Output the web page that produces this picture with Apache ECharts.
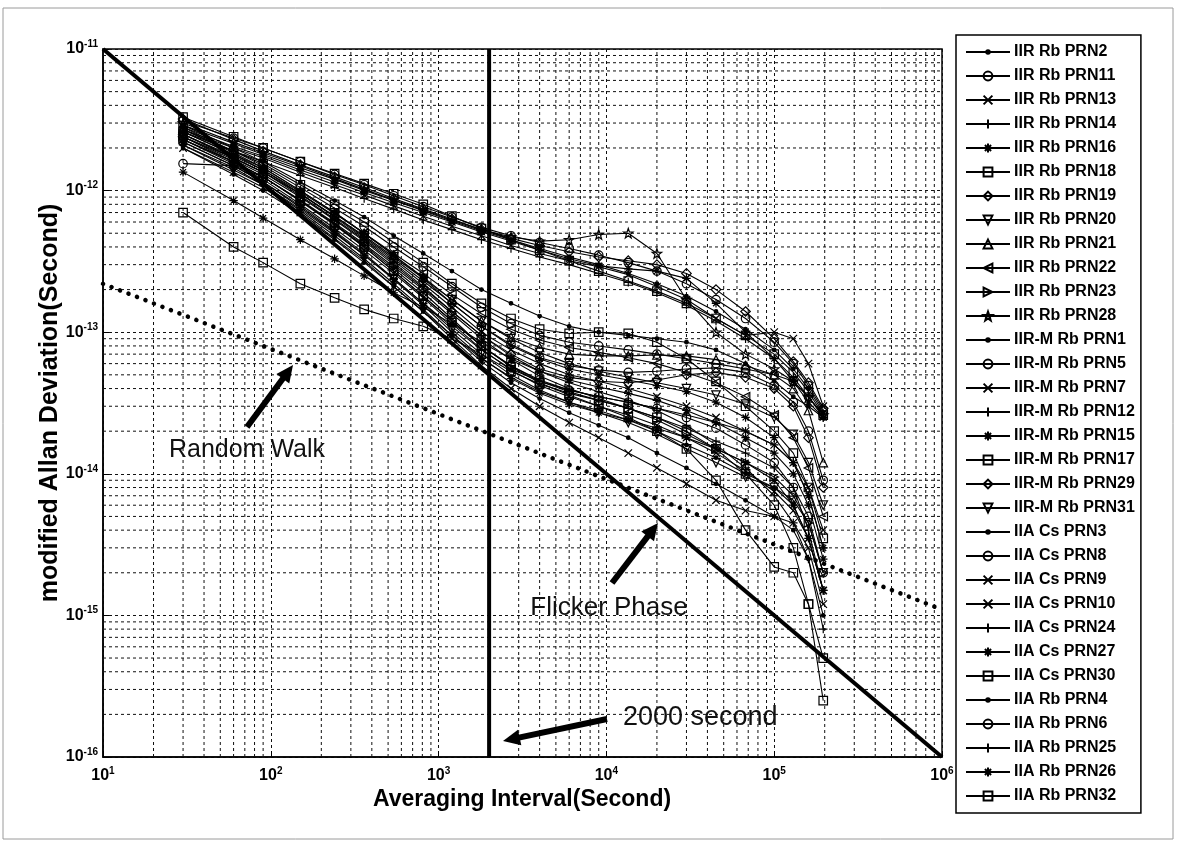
<!DOCTYPE html>
<html><head><meta charset="utf-8">
<script src="https://cdn.jsdelivr.net/npm/echarts@6/dist/echarts.min.js"></script>
<style>html,body{margin:0;padding:0;background:#fff}#c{width:1181px;height:842px}</style>
</head><body><div id="c"></div>
<script>
// ---------------- DATA ----------------
const TAU = [30, 60, 90, 150, 240, 360, 540, 810, 1200, 1800, 2700, 4000, 6000, 9000, 13500, 20000, 30000, 45000, 67500, 100000, 130000, 160000, 196000];

const iirRb_PRN2  = [2.9e-12, 2.15e-12, 1.8e-12, 1.45e-12, 1.2e-12, 1.0e-12, 8.5e-13, 7.2e-13, 6.1e-13, 5.2e-13, 4.5e-13, 3.9e-13, 3.4e-13, 3.0e-13, 2.6e-13, 2.2e-13, 1.8e-13, 1.4e-13, 1.05e-13, 7.5e-14, 5.5e-14, 4.0e-14, 2.7e-14];
const iirRb_PRN11 = [3.1e-12, 2.35e-12, 2.0e-12, 1.6e-12, 1.3e-12, 1.1e-12, 9.2e-13, 7.7e-13, 6.5e-13, 5.5e-13, 4.8e-13, 4.3e-13, 3.9e-13, 3.5e-13, 3.1e-13, 2.7e-13, 2.2e-13, 1.7e-13, 1.25e-13, 8.5e-14, 6.0e-14, 4.2e-14, 2.8e-14];
const iirRb_PRN13 = [2.7e-12, 2.0e-12, 1.7e-12, 1.35e-12, 1.1e-12, 9.3e-13, 7.8e-13, 6.6e-13, 5.6e-13, 4.8e-13, 4.1e-13, 3.6e-13, 3.2e-13, 2.9e-13, 2.55e-13, 2.1e-13, 1.7e-13, 1.25e-13, 9.5e-14, 1.0e-13, 9.0e-14, 6.0e-14, 3.0e-14];
const iirRb_PRN14 = [2.6e-12, 1.9e-12, 1.6e-12, 1.28e-12, 1.05e-12, 8.8e-13, 7.4e-13, 6.2e-13, 5.3e-13, 4.5e-13, 3.9e-13, 3.4e-13, 3.0e-13, 2.6e-13, 2.25e-13, 1.9e-13, 1.55e-13, 1.2e-13, 9.0e-14, 6.5e-14, 4.8e-14, 3.5e-14, 2.5e-14];
const iirRb_PRN16 = [2.8e-12, 2.05e-12, 1.75e-12, 1.4e-12, 1.15e-12, 9.7e-13, 8.2e-13, 7.0e-13, 6.0e-13, 5.1e-13, 4.4e-13, 3.8e-13, 3.3e-13, 2.95e-13, 2.8e-13, 2.7e-13, 2.4e-13, 1.6e-13, 1.0e-13, 6.5e-14, 4.5e-14, 3.2e-14, 2.5e-14];
const iirRb_PRN18 = [3.3e-12, 2.4e-12, 2.0e-12, 1.6e-12, 1.32e-12, 1.12e-12, 9.5e-13, 8.0e-13, 6.6e-13, 5.4e-13, 4.5e-13, 3.8e-13, 3.2e-13, 2.7e-13, 2.3e-13, 1.95e-13, 1.6e-13, 1.25e-13, 9.5e-14, 7.0e-14, 5.2e-14, 3.8e-14, 2.6e-14];
const iirRb_PRN19 = [3.2e-12, 2.3e-12, 1.9e-12, 1.52e-12, 1.25e-12, 1.05e-12, 8.8e-13, 7.4e-13, 6.3e-13, 5.3e-13, 4.6e-13, 4.1e-13, 3.7e-13, 3.4e-13, 3.2e-13, 3.0e-13, 2.6e-13, 2.0e-13, 1.4e-13, 9.0e-14, 6.2e-14, 4.4e-14, 2.9e-14];
const iirRb_PRN20 = [2.4e-12, 1.7e-12, 1.35e-12, 9.5e-13, 6.6e-13, 4.8e-13, 3.4e-13, 2.4e-13, 1.7e-13, 1.2e-13, 9.0e-14, 7.2e-14, 6.0e-14, 5.3e-14, 4.8e-14, 4.4e-14, 4.0e-14, 3.6e-14, 3.1e-14, 2.5e-14, 1.9e-14, 1.2e-14, 6.0e-15];
const iirRb_PRN21 = [2.7e-12, 1.85e-12, 1.45e-12, 1.0e-12, 7.0e-13, 5.0e-13, 3.5e-13, 2.45e-13, 1.7e-13, 1.2e-13, 9.2e-14, 7.8e-14, 7.0e-14, 6.8e-14, 6.8e-14, 6.9e-14, 6.8e-14, 6.4e-14, 5.8e-14, 5.0e-14, 4.0e-14, 2.8e-14, 1.2e-14];
const iirRb_PRN22 = [2.5e-12, 1.75e-12, 1.4e-12, 9.8e-13, 6.9e-13, 5.0e-13, 3.6e-13, 2.6e-13, 1.85e-13, 1.35e-13, 1.05e-13, 8.8e-14, 7.8e-14, 7.2e-14, 6.6e-14, 6.0e-14, 5.2e-14, 4.4e-14, 3.5e-14, 2.6e-14, 1.8e-14, 1.1e-14, 5.0e-15];
const iirRb_PRN23 = [2.3e-12, 1.6e-12, 1.25e-12, 8.6e-13, 5.9e-13, 4.2e-13, 2.9e-13, 2.0e-13, 1.35e-13, 9.0e-14, 6.4e-14, 4.9e-14, 4.0e-14, 3.4e-14, 2.9e-14, 2.4e-14, 1.9e-14, 1.5e-14, 1.2e-14, 9.5e-15, 7.0e-15, 4.5e-15, 2.0e-15];
const iirRb_PRN28 = [3.0e-12, 2.2e-12, 1.85e-12, 1.5e-12, 1.22e-12, 1.02e-12, 8.6e-13, 7.3e-13, 6.2e-13, 5.3e-13, 4.7e-13, 4.4e-13, 4.5e-13, 4.9e-13, 5.0e-13, 3.6e-13, 1.7e-13, 1.0e-13, 7.0e-14, 5.5e-14, 4.5e-14, 3.5e-14, 2.6e-14];

const iirmRb_PRN1  = [2.9e-12, 2.0e-12, 1.6e-12, 1.15e-12, 8.5e-13, 6.5e-13, 4.8e-13, 3.6e-13, 2.7e-13, 2.0e-13, 1.6e-13, 1.3e-13, 1.1e-13, 1.0e-13, 9.5e-14, 9.0e-14, 8.5e-14, 7.5e-14, 6.0e-14, 4.5e-14, 3.5e-14, 3.0e-14, 2.5e-14];
const iirmRb_PRN5  = [2.7e-12, 1.9e-12, 1.5e-12, 1.05e-12, 7.5e-13, 5.6e-13, 4.0e-13, 2.9e-13, 2.1e-13, 1.5e-13, 1.15e-13, 9.5e-14, 8.5e-14, 8.0e-14, 7.5e-14, 7.0e-14, 6.5e-14, 6.0e-14, 5.5e-14, 5.0e-14, 4.5e-14, 3.5e-14, 2.6e-14];
const iirmRb_PRN7  = [2.5e-12, 1.7e-12, 1.35e-12, 9.5e-13, 6.5e-13, 4.6e-13, 3.2e-13, 2.2e-13, 1.5e-13, 1.0e-13, 7.5e-14, 6.0e-14, 5.0e-14, 4.5e-14, 4.0e-14, 3.5e-14, 3.0e-14, 2.5e-14, 2.0e-14, 1.6e-14, 1.2e-14, 8.0e-15, 4.0e-15];
const iirmRb_PRN12 = [2.3e-12, 1.6e-12, 1.25e-12, 8.5e-13, 5.8e-13, 4.1e-13, 2.8e-13, 1.9e-13, 1.25e-13, 8.0e-14, 5.8e-14, 4.5e-14, 3.8e-14, 3.3e-14, 2.9e-14, 2.5e-14, 2.1e-14, 1.7e-14, 1.4e-14, 1.1e-14, 8.0e-15, 4.0e-15, 1.5e-15];
const iirmRb_PRN15 = [2.6e-12, 1.8e-12, 1.45e-12, 1.0e-12, 7.0e-13, 5.0e-13, 3.5e-13, 2.4e-13, 1.6e-13, 1.1e-13, 8.0e-14, 6.5e-14, 5.5e-14, 5.0e-14, 4.6e-14, 4.2e-14, 3.8e-14, 3.2e-14, 2.5e-14, 1.8e-14, 1.2e-14, 7.0e-15, 3.0e-15];
const iirmRb_PRN17 = [2.8e-12, 1.9e-12, 1.55e-12, 1.1e-12, 8.0e-13, 6.0e-13, 4.3e-13, 3.1e-13, 2.2e-13, 1.6e-13, 1.25e-13, 1.05e-13, 9.8e-14, 1.0e-13, 9.8e-14, 8.5e-14, 6.5e-14, 4.5e-14, 3.0e-14, 2.0e-14, 1.4e-14, 8.0e-15, 3.5e-15];
const iirmRb_PRN29 = [2.4e-12, 1.65e-12, 1.3e-12, 9.0e-13, 6.2e-13, 4.4e-13, 3.0e-13, 2.05e-13, 1.4e-13, 9.5e-14, 7.0e-14, 5.5e-14, 4.8e-14, 4.5e-14, 4.4e-14, 4.6e-14, 5.0e-14, 5.2e-14, 4.8e-14, 4.0e-14, 3.0e-14, 1.8e-14, 8.0e-15];
const iirmRb_PRN31 = [2.2e-12, 1.5e-12, 1.15e-12, 7.8e-13, 5.2e-13, 3.6e-13, 2.4e-13, 1.6e-13, 1.05e-13, 7.0e-14, 5.0e-14, 3.9e-14, 3.2e-14, 2.7e-14, 2.3e-14, 1.9e-14, 1.5e-14, 1.2e-14, 9.5e-15, 8.0e-15, 6.5e-15, 4.5e-15, 2.0e-15];

const iiaCs_PRN3  = [2.1e-12, 1.4e-12, 1.1e-12, 7.2e-13, 4.8e-13, 3.3e-13, 2.2e-13, 1.45e-13, 9.5e-14, 6.2e-14, 4.4e-14, 3.4e-14, 2.7e-14, 2.2e-14, 1.8e-14, 1.4e-14, 1.1e-14, 8.5e-15, 6.5e-15, 5.0e-15, 4.0e-15, 2.5e-15, 1.0e-15];
const iiaCs_PRN8  = [2.6e-12, 1.8e-12, 1.4e-12, 9.5e-13, 6.6e-13, 4.7e-13, 3.3e-13, 2.3e-13, 1.6e-13, 1.1e-13, 8.2e-14, 6.6e-14, 5.8e-14, 5.4e-14, 5.2e-14, 5.3e-14, 5.5e-14, 5.6e-14, 5.2e-14, 4.2e-14, 3.2e-14, 2.0e-14, 9.0e-15];
const iiaCs_PRN9  = [2.3e-12, 1.55e-12, 1.2e-12, 8.0e-13, 5.4e-13, 3.8e-13, 2.6e-13, 1.75e-13, 1.15e-13, 7.6e-14, 5.4e-14, 4.2e-14, 3.5e-14, 3.0e-14, 2.6e-14, 2.2e-14, 1.8e-14, 1.4e-14, 1.05e-14, 7.5e-15, 5.5e-15, 3.5e-15, 1.5e-15];
const iiaCs_PRN10 = [2.0e-12, 1.35e-12, 1.05e-12, 7.0e-13, 4.6e-13, 3.2e-13, 2.1e-13, 1.4e-13, 9.0e-14, 5.8e-14, 4.0e-14, 3.0e-14, 2.3e-14, 1.8e-14, 1.4e-14, 1.1e-14, 8.5e-15, 6.5e-15, 5.5e-15, 5.0e-15, 4.5e-15, 3.0e-15, 1.2e-15];
const iiaCs_PRN24 = [2.5e-12, 1.7e-12, 1.35e-12, 9.2e-13, 6.3e-13, 4.5e-13, 3.1e-13, 2.1e-13, 1.4e-13, 9.5e-14, 6.8e-14, 5.3e-14, 4.4e-14, 3.8e-14, 3.3e-14, 2.8e-14, 2.2e-14, 1.6e-14, 1.1e-14, 7.0e-15, 4.5e-15, 2.5e-15, 8.0e-16];
const iiaCs_PRN27 = [2.2e-12, 1.5e-12, 1.15e-12, 7.6e-13, 5.1e-13, 3.5e-13, 2.35e-13, 1.55e-13, 1.0e-13, 6.6e-14, 4.7e-14, 3.7e-14, 3.1e-14, 2.7e-14, 2.4e-14, 2.1e-14, 1.8e-14, 1.5e-14, 1.2e-14, 9.0e-15, 6.0e-15, 3.5e-15, 1.5e-15];
const iiaCs_PRN30 = [2.4e-12, 1.6e-12, 1.25e-12, 8.4e-13, 5.7e-13, 4.0e-13, 2.7e-13, 1.8e-13, 1.2e-13, 8.0e-14, 5.7e-14, 4.4e-14, 3.6e-14, 3.0e-14, 2.5e-14, 2.0e-14, 1.5e-14, 9.0e-15, 4.0e-15, 2.2e-15, 2.0e-15, 1.2e-15, 5.0e-16];

const iiaRb_PRN4  = [2.0e-12, 1.3e-12, 1.0e-12, 6.8e-13, 4.5e-13, 3.1e-13, 2.1e-13, 1.4e-13, 9.5e-14, 6.5e-14, 4.8e-14, 3.8e-14, 3.2e-14, 2.8e-14, 2.4e-14, 2.0e-14, 1.6e-14, 1.3e-14, 1.0e-14, 8.0e-15, 6.0e-15, 3.5e-15, 1.5e-15];
const iiaRb_PRN6  = [1.55e-12, 1.5e-12, 1.25e-12, 8.5e-13, 5.8e-13, 4.0e-13, 2.7e-13, 1.8e-13, 1.2e-13, 8.0e-14, 5.8e-14, 4.6e-14, 3.9e-14, 3.5e-14, 3.2e-14, 2.9e-14, 2.5e-14, 2.1e-14, 1.6e-14, 1.2e-14, 8.0e-15, 5.0e-15, 2.0e-15];
const iiaRb_PRN25 = [2.1e-12, 1.45e-12, 1.1e-12, 7.4e-13, 5.0e-13, 3.5e-13, 2.4e-13, 1.6e-13, 1.1e-13, 7.5e-14, 5.5e-14, 4.5e-14, 3.9e-14, 3.5e-14, 3.2e-14, 2.9e-14, 2.6e-14, 2.3e-14, 2.0e-14, 1.6e-14, 1.2e-14, 7.0e-15, 3.0e-15];
const iiaRb_PRN26 = [1.35e-12, 8.5e-13, 6.4e-13, 4.5e-13, 3.3e-13, 2.5e-13, 1.9e-13, 1.5e-13, 1.15e-13, 8.5e-14, 6.5e-14, 5.3e-14, 4.6e-14, 4.1e-14, 3.7e-14, 3.3e-14, 2.8e-14, 2.3e-14, 1.8e-14, 1.4e-14, 1.0e-14, 6.0e-15, 2.5e-15];
const iiaRb_PRN32 = [7.0e-13, 4.0e-13, 3.1e-13, 2.2e-13, 1.75e-13, 1.45e-13, 1.25e-13, 1.1e-13, 9.0e-14, 7.0e-14, 5.3e-14, 4.3e-14, 3.7e-14, 3.3e-14, 2.9e-14, 2.5e-14, 2.0e-14, 1.5e-14, 1.0e-14, 6.0e-15, 3.0e-15, 1.2e-15, 2.5e-16];

const SERIES_NAMES = ['IIR Rb PRN2','IIR Rb PRN11','IIR Rb PRN13','IIR Rb PRN14','IIR Rb PRN16','IIR Rb PRN18','IIR Rb PRN19','IIR Rb PRN20','IIR Rb PRN21','IIR Rb PRN22','IIR Rb PRN23','IIR Rb PRN28',
  'IIR-M Rb PRN1','IIR-M Rb PRN5','IIR-M Rb PRN7','IIR-M Rb PRN12','IIR-M Rb PRN15','IIR-M Rb PRN17','IIR-M Rb PRN29','IIR-M Rb PRN31',
  'IIA Cs PRN3','IIA Cs PRN8','IIA Cs PRN9','IIA Cs PRN10','IIA Cs PRN24','IIA Cs PRN27','IIA Cs PRN30',
  'IIA Rb PRN4','IIA Rb PRN6','IIA Rb PRN25','IIA Rb PRN26','IIA Rb PRN32'];
const SERIES_VALUES = [iirRb_PRN2, iirRb_PRN11, iirRb_PRN13, iirRb_PRN14, iirRb_PRN16, iirRb_PRN18, iirRb_PRN19, iirRb_PRN20, iirRb_PRN21, iirRb_PRN22, iirRb_PRN23, iirRb_PRN28,
  iirmRb_PRN1, iirmRb_PRN5, iirmRb_PRN7, iirmRb_PRN12, iirmRb_PRN15, iirmRb_PRN17, iirmRb_PRN29, iirmRb_PRN31,
  iiaCs_PRN3, iiaCs_PRN8, iiaCs_PRN9, iiaCs_PRN10, iiaCs_PRN24, iiaCs_PRN27, iiaCs_PRN30,
  iiaRb_PRN4, iiaRb_PRN6, iiaRb_PRN25, iiaRb_PRN26, iiaRb_PRN32];
const MARKERS = ['.','o','x','+','*','s','d','v','^','<','>','p',
  '.','o','x','+','*','s','d','v',
  '.','o','x','x','+','*','s',
  '.','o','+','*','s'];

// reference lines
const flickerPhaseLine = [[10, 1e-11], [1e6, 1e-16]];
const randomWalkLine   = [[10, 2.2e-13], [1e6, 1.1e-15]];
const line2000s        = [[2000, 1e-16], [2000, 1e-11]];

// axis ranges
const X_MIN = 10, X_MAX = 1e6, Y_MIN = 1e-16, Y_MAX = 1e-11;

// --------------- RENDER ---------------
const FONT = 'Liberation Sans, Arial, Helvetica, sans-serif';
const SYM = {
  '.': {s: 'path://M0,0L0,0M10,10L10,10M3,5A2,2,0,1,1,7,5A2,2,0,1,1,3,5Z', size: 9, fill: '#000'},
  'o': {s: 'circle', size: 8.5},
  'x': {s: 'path://M0,0L10,10M10,0L0,10', size: 7.5},
  '+': {s: 'path://M5,0L5,10M0,5L10,5', size: 8.5},
  '*': {s: 'path://M5,0L5,10M0,5L10,5M1.5,1.5L8.5,8.5M8.5,1.5L1.5,8.5', size: 8.5},
  's': {s: 'rect', size: 8.5},
  'd': {s: 'diamond', size: 9.5},
  'v': {s: 'path://M0,0L10,0L5,10Z', size: 8.5},
  '^': {s: 'triangle', size: 8.5},
  '<': {s: 'path://M10,0L10,10L0,5Z', size: 8.5},
  '>': {s: 'path://M0,0L0,10L10,5Z', size: 8.5},
  'p': {s: 'path://M5,0L6.18,3.38L9.76,3.45L6.9,5.62L7.94,9.05L5,7L2.06,9.05L3.1,5.62L0.24,3.45L3.82,3.38Z', size: 9.5}
};

const gridStyle = {color: '#111', width: 1, type: [3, 3]};
const series = [];

// minor grid lines (at 2..9 x 10^n), drawn through the axes' own scales
for (let e = 1; e < 6; e++) for (let k = 2; k < 10; k++) {
  const v = k * Math.pow(10, e);
  series.push({type: 'line', data: [[v, Y_MIN], [v, Y_MAX]], symbol: 'none', z: 1, silent: true, lineStyle: gridStyle, emphasis: {disabled: true}});
}
for (let e = -16; e < -11; e++) for (let k = 2; k < 10; k++) {
  const v = k * Math.pow(10, e);
  series.push({type: 'line', data: [[X_MIN, v], [X_MAX, v]], symbol: 'none', z: 1, silent: true, lineStyle: gridStyle, emphasis: {disabled: true}});
}

SERIES_NAMES.forEach((name, i) => {
  const m = SYM[MARKERS[i]];
  series.push({
    type: 'line', name: name, z: 3,
    data: TAU.map((t, j) => [t, SERIES_VALUES[i][j]]),
    symbol: m.s, symbolSize: m.size, showSymbol: true, showAllSymbol: true,
    lineStyle: {color: '#000', width: 1.1},
    itemStyle: {color: m.fill || 'none', borderColor: '#000', borderWidth: 1.2},
    emphasis: {disabled: true}
  });
});
series.push({type: 'line', name: '_flicker', data: flickerPhaseLine, symbol: 'none', z: 4, lineStyle: {color: '#000', width: 4}, silent: true});
series.push({type: 'line', name: '_rw', data: randomWalkLine, symbol: 'none', z: 4, lineStyle: {color: '#000', width: 4.5, type: [0.1, 9], cap: 'round'}, silent: true});
series.push({type: 'line', name: '_v2000', data: line2000s, symbol: 'none', z: 4, lineStyle: {color: '#000', width: 4}, silent: true});

function arrow(x1, y1, x2, y2) {
  const dx = x2 - x1, dy = y2 - y1, L = Math.hypot(dx, dy);
  const ux = dx / L, uy = dy / L, nx = -uy, ny = ux;
  const HL = 17, HW = 8;
  const bx = x2 - ux * HL, by = y2 - uy * HL;
  return [
    {type: 'line', shape: {x1: x1, y1: y1, x2: bx + ux * 2, y2: by + uy * 2}, style: {stroke: '#000', lineWidth: 6}, z: 10},
    {type: 'polygon', shape: {points: [[x2, y2], [bx + nx * HW, by + ny * HW], [bx - nx * HW, by - ny * HW]]}, style: {fill: '#000'}, z: 10}
  ];
}

const supRich = {
  b: {fontSize: 16, fontWeight: 'bold', fontFamily: FONT, color: '#000'},
  e: {fontSize: 10, fontWeight: 'bold', fontFamily: FONT, color: '#000', padding: [0, 0, 10, 0]}
};
const expFmt = v => '{b|10}{e|' + Math.round(Math.log10(v)) + '}';

const option = {
  animation: false,
  backgroundColor: '#fff',
  grid: {left: 103, top: 49, width: 839, height: 708, show: true, borderColor: '#000', borderWidth: 1.5, backgroundColor: 'transparent'},
  xAxis: {
    type: 'log', logBase: 10, min: X_MIN, max: X_MAX,
    axisLine: {show: true, onZero: false, lineStyle: {color: '#000', width: 1.5}},
    axisTick: {show: true, inside: true, length: 6, lineStyle: {color: '#000'}},
    splitLine: {show: true, lineStyle: gridStyle},
    axisLabel: {formatter: expFmt, rich: supRich, margin: 9}
  },
  yAxis: {
    type: 'log', logBase: 10, min: Y_MIN, max: Y_MAX,
    axisLine: {show: true, onZero: false, lineStyle: {color: '#000', width: 1.5}},
    axisTick: {show: true, inside: true, length: 6, lineStyle: {color: '#000'}},
    splitLine: {show: true, lineStyle: gridStyle},
    axisLabel: {formatter: expFmt, rich: supRich, margin: 5}
  },
  legend: {
    data: SERIES_NAMES, orient: 'vertical', left: 956, top: 35,
    itemWidth: 44, itemHeight: 11, itemGap: 8,
    padding: [9, 6, 9, 9],
    borderColor: '#000', borderWidth: 1.5, backgroundColor: '#fff',
    selectedMode: false,
    textStyle: {fontSize: 16, fontWeight: 'bold', fontFamily: FONT, color: '#000', lineHeight: 16, padding: [0, 0, 0, -1]}
  },
  graphic: [
    {type: 'rect', shape: {x: 3, y: 8, width: 1170, height: 831}, style: {fill: 'none', stroke: '#9a9a9a', lineWidth: 1}, z: 0, silent: true},
    {type: 'text', x: 522, y: 800, style: {text: 'Averaging Interval(Second)', font: 'bold 23px ' + FONT, fill: '#000', align: 'center', verticalAlign: 'middle'}, z: 10},
    {type: 'text', x: 50, y: 403, rotation: Math.PI / 2, style: {text: 'modified Allan Deviation(Second)', font: 'bold 25px ' + FONT, fill: '#000', align: 'center', verticalAlign: 'middle'}, z: 10},
    {type: 'text', x: 247, y: 450, style: {text: 'Random Walk', font: '25px ' + FONT, fill: '#111', align: 'center', verticalAlign: 'middle'}, z: 10},
    {type: 'text', x: 609, y: 608, style: {text: 'Flicker Phase', font: '26px ' + FONT, fill: '#111', align: 'center', verticalAlign: 'middle'}, z: 10},
    {type: 'text', x: 623, y: 718, style: {text: '2000 second', font: '27px ' + FONT, fill: '#111', align: 'left', verticalAlign: 'middle'}, z: 10}
  ].concat(arrow(247, 427, 293, 365), arrow(612, 583, 658, 523), arrow(607, 719, 503, 741)),
  series: series
};

const chart = echarts.init(document.getElementById('c'), null, {renderer: 'canvas'});
chart.setOption(option);
</script>
</body></html>
